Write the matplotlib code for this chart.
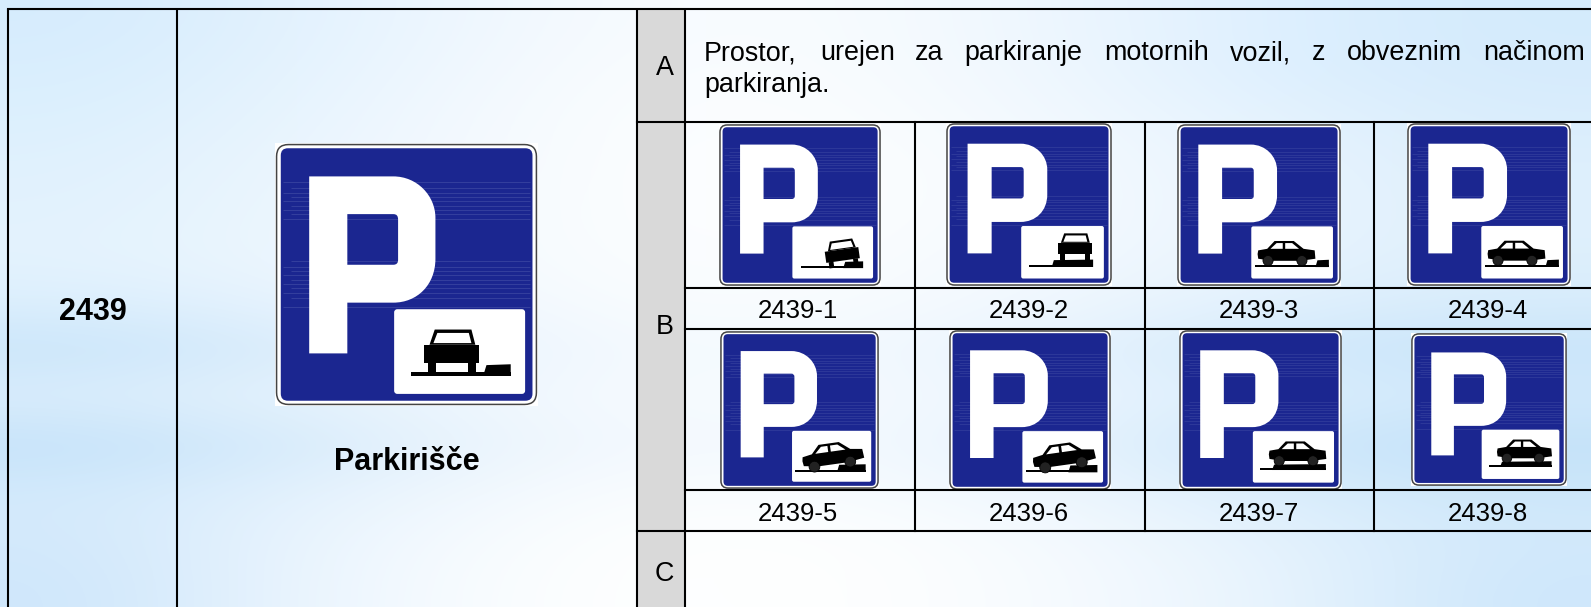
import numpy as np
import matplotlib
matplotlib.use('Agg')
import matplotlib.pyplot as plt
from matplotlib.colors import to_rgb
from matplotlib.patches import Circle, FancyBboxPatch, PathPatch, Polygon, Rectangle
from matplotlib.path import Path
from matplotlib.transforms import Affine2D

plt.rcParams['font.family'] = ['Liberation Sans', 'DejaVu Sans']

W, H = 1591, 607

# table content
sign_code = '2439'
sign_name = 'Parkirišče'
row_letters = ['A', 'B', 'C']
text_a_words = ['Prostor,', 'urejen', 'za', 'parkiranje', 'motornih', 'vozil,', 'z', 'obveznim', 'načinom']
text_a_last = 'parkiranja.'
labels_top = ['2439-1', '2439-2', '2439-3', '2439-4']
labels_bottom = ['2439-5', '2439-6', '2439-7', '2439-8']

# word starts of the justified line
word_x = [704, 820, 915, 964, 1104, 1230, 1312, 1347, 1483]

# grid lines
col_lines = [8, 177, 637, 685]
inner_cols = [915, 1145, 1374]
row_lines = [122, 288, 329, 490, 531]
top_line = 9

# background colours, 13 rows x 8 columns
bg_rows = [
    'd6ecfd e3f2fe f1f8ff f9fcff f6fbff ebf5fe dcefff d4ebfc',
    'd9eefd e5f3fe f3f9ff fbfdff f7fbff ecf6fe dcefff d6ebfc',
    'dcf0fd e8f4fe f5faff fcfeff f9fcff eff7fe e3f2fe d9edfc',
    'e0f1fd ebf5fe f6faff fdfeff fbfdff f2f9fe e7f3fe ddeffc',
    'e2f2fd ecf6fe f6fbff fdfeff fbfdff f3f9fe e8f4fe dff0fc',
    'e4f3fe edf6fe f6fbff fcfdff f9fcff f1f8fe e7f3fe ddeffc',
    'dceffd e7f3fe f3f9ff fafdff f7fbff edf6fe e0f0fd d7ecfb',
    'c9e5fa d9ecfb ecf5fe f6fbff f1f8fe e2f1fd cfe8fb c8e4fa',
    'dceefc e6f3fd f1f8fe f8fcff f5faff e9f4fe dceffd d3eafb',
    'c4e2f9 d6ebfb ecf5fd f5faff f1f8fe e2f1fd cbe6fa c2e1f9',
    'd3eafc e3f1fd f3f9fe fbfdff f6fbff ebf5fe d9edfc cde7fa',
    'd3e9fb e9f4fe f8fcff feffff fcfeff f3f9fe e2f1fd d2e9fb',
    'cfe7fb ebf5fe fafdff ffffff fdfeff f5faff e6f3fd cee7fb',
]

# x0, y0, x1, y1 of each sign and what the small panel shows
big_sign = (275, 143, 538, 406, 'front_road')
small_signs = [
    (719, 124, 881, 286, 'front_tilt'),
    (946, 123, 1112, 286, 'front_on'),
    (1177, 124, 1341, 286, 'side_road'),
    (1407, 123, 1571, 286, 'side_road'),
    (720, 331, 879, 489, 'side_tilt'),
    (949, 330, 1111, 490, 'side_tilt'),
    (1179, 330, 1342, 490, 'side_on'),
    (1411, 333, 1567, 486, 'side_on'),
]

# lighter scan streaks on the blue, in sign fractions
streak_y = [.15, .17, .19, .205, .22, .24, .255, .27, .29,
            .45, .47, .485, .5, .52, .535, .55, .57, .59, .625]

BLUE = '#1b2690'

fig = plt.figure(figsize=(W / 100, H / 100), dpi=100)
ax = fig.add_axes([0, 0, 1, 1])
ax.set_xlim(0, W)
ax.set_ylim(H, 0)
ax.axis('off')

bg = np.array([[to_rgb('#' + c) for c in row.split()] for row in bg_rows])
ax.imshow(bg, extent=(0, W, H, 0), aspect='auto', interpolation='bicubic', zorder=0)
ax.set_xlim(0, W)
ax.set_ylim(H, 0)


def p_shape(x, y, w, h):
    # capital P with its counter, outer and inner path run in opposite directions
    pts = [(.13, .127), (.45, .127), (.54, .127), (.61, .2), (.61, .285), (.61, .44),
           (.61, .54), (.54, .607), (.45, .607), (.275, .607), (.275, .80), (.13, .80), (.13, .127),
           (.275, .27), (.275, .463), (.45, .463), (.468, .463), (.468, .445), (.468, .29),
           (.468, .27), (.45, .27), (.275, .27)]
    codes = [Path.MOVETO, Path.LINETO, Path.CURVE4, Path.CURVE4, Path.CURVE4, Path.LINETO,
             Path.CURVE4, Path.CURVE4, Path.CURVE4, Path.LINETO, Path.LINETO, Path.LINETO, Path.CLOSEPOLY,
             Path.MOVETO, Path.LINETO, Path.LINETO, Path.CURVE3, Path.CURVE3, Path.LINETO,
             Path.CURVE3, Path.CURVE3, Path.CLOSEPOLY]
    verts = [(x + a * w, y + b * h) for a, b in pts]
    return PathPatch(Path(verts, codes), fc='white', ec='none', zorder=5)


def draw_front_car(px, py, pw, ph, angle):
    def to_px(points):
        return [(px + a * pw, py + b * ph) for a, b in points]
    cx, cy = px + .44 * pw, py + .6 * ph
    tr = Affine2D().rotate_deg_around(cx, cy, angle) + ax.transData
    parts = [
        ([(.27, .42), (.31, .24), (.59, .24), (.62, .42)], 'black'),
        ([(.30, .40), (.33, .28), (.57, .28), (.59, .40)], 'white'),
        ([(.23, .42), (.65, .42), (.65, .635), (.23, .635)], 'black'),
        ([(.26, .63), (.32, .63), (.32, .75), (.26, .75)], 'black'),
        ([(.565, .63), (.625, .63), (.625, .75), (.565, .75)], 'black'),
    ]
    for pts, col in parts:
        ax.add_patch(Polygon(to_px(pts), fc=col, ec='none', zorder=7, transform=tr))


def draw_side_car(px, py, pw, ph, angle, dx=0.0, dy=0.0, scale=1.0):
    def to_px(points):
        return [(px + (a * scale + dx) * pw, py + (b * scale + dy) * ph) for a, b in points]
    cx, cy = px + (.43 * scale + dx) * pw, py + (.6 * scale + dy) * ph
    tr = Affine2D().rotate_deg_around(cx, cy, angle) + ax.transData
    body = [(.077, .53), (.085, .46), (.195, .43), (.285, .28), (.52, .28), (.64, .43),
            (.776, .46), (.785, .62), (.60, .66), (.25, .66), (.085, .62)]
    win1 = [(.235, .43), (.31, .32), (.385, .32), (.385, .43)]
    win2 = [(.415, .43), (.415, .32), (.50, .32), (.585, .43)]
    ax.add_patch(Polygon(to_px(body), fc='black', ec='none', zorder=7, transform=tr))
    ax.add_patch(Polygon(to_px(win1), fc='white', ec='none', zorder=8, transform=tr))
    ax.add_patch(Polygon(to_px(win2), fc='white', ec='none', zorder=8, transform=tr))
    for wx in (.205, .62):
        wheel = to_px([(wx, .655)])[0]
        ax.add_patch(Circle(wheel, .062 * scale * pw, fc='#222222', ec='black', lw=.6, zorder=8, transform=tr))


def draw_ground(px, py, pw, ph, x0, x1, k0, k1, top, bottom=.785):
    # road line and the raised kerb
    road = [(x0, bottom - .04), (x1, bottom - .04), (x1, bottom), (x0, bottom)]
    kerb = [(k0, bottom), (k0 + .025, top), (k1, top - .01), (k1, bottom)]
    for pts in (road, kerb):
        ax.add_patch(Polygon([(px + a * pw, py + b * ph) for a, b in pts], fc='black', ec='none', zorder=6))


def draw_sign(x0, y0, x1, y1, kind):
    w, h = x1 - x0, y1 - y0
    ax.add_patch(Rectangle((x0, y0), w, h, fc='white', ec='none', zorder=2))
    rad = .045 * w
    ax.add_patch(FancyBboxPatch((x0 + .006 * w, y0 + .006 * h), .988 * w, .988 * h,
                                boxstyle='round,pad=0,rounding_size=%.2f' % rad,
                                fc='white', ec='#444444', lw=1.1, zorder=2))
    ax.add_patch(FancyBboxPatch((x0 + .022 * w, y0 + .02 * h), .957 * w, .96 * h,
                                boxstyle='round,pad=0,rounding_size=%.2f' % (rad * .6),
                                fc=BLUE, ec='none', zorder=3))
    for i, s in enumerate(streak_y):
        left = .03 if i % 2 == 0 else .06
        ax.plot([x0 + left * w, x0 + .97 * w], [y0 + s * h] * 2, color='#6f7bbd',
                lw=.7 if w > 200 else .5, alpha=.3, zorder=4, solid_capstyle='butt')
    ax.add_patch(p_shape(x0, y0, w, h))

    # white panel with the parking method
    px, py = x0 + .453 * w, y0 + .632 * h
    pw, ph = .498 * w, .322 * h
    ax.add_patch(FancyBboxPatch((px, py), pw, ph, boxstyle='round,pad=0,rounding_size=%.2f' % (.012 * w),
                                fc='white', ec='none', zorder=5))
    if kind == 'front_road':
        draw_ground(px, py, pw, ph, .13, .89, .68, .89, .66)
        draw_front_car(px, py, pw, ph, 0)
    elif kind == 'front_tilt':
        draw_ground(px, py, pw, ph, .11, .877, .63, .877, .68, .80)
        draw_front_car(px + .185 * pw, py + .02 * ph, pw, ph, -8)
    elif kind == 'front_on':
        draw_ground(px, py, pw, ph, .10, .87, .37, .87, .65, .78)
        draw_front_car(px + .21 * pw, py - .10 * ph, pw, ph, 0)
    elif kind == 'side_road':
        draw_ground(px, py, pw, ph, .05, .95, .785, .95, .65, .78)
        draw_side_car(px, py, pw, ph, 0)
    elif kind == 'side_tilt':
        draw_ground(px, py, pw, ph, .04, .93, .57, .93, .667, .80)
        draw_side_car(px, py, pw, ph, -8, dx=.05, dy=-.07, scale=1.1)
    elif kind == 'side_on':
        draw_ground(px, py, pw, ph, .09, .90, .237, .90, .65, .755)
        draw_side_car(px, py, pw, ph, 0, dx=.12, dy=-.08)


# grey letter column
ax.add_patch(Rectangle((col_lines[2], top_line), col_lines[3] - col_lines[2], H - top_line,
                       fc='#d9d9d9', ec='none', zorder=1))

draw_sign(*big_sign)
for s in small_signs:
    draw_sign(*s)

# table rules
LW = 1.5
ax.plot([col_lines[0], W], [top_line, top_line], color='black', lw=LW, zorder=10)
for x in col_lines:
    ax.plot([x, x], [top_line, H], color='black', lw=LW, zorder=10, solid_capstyle='butt')
for x in inner_cols:
    ax.plot([x, x], [row_lines[0], row_lines[4]], color='black', lw=LW, zorder=10)
for y, start in zip(row_lines, [col_lines[2], col_lines[3], col_lines[3], col_lines[3], col_lines[2]]):
    ax.plot([start, W], [y, y], color='black', lw=LW, zorder=10)

# texts
FS = 19.4
ax.text(93, 320, sign_code, fontsize=22, fontweight='bold', ha='center', va='baseline', zorder=11)
ax.text(406.5, 470, sign_name, fontsize=22, fontweight='bold', ha='center', va='baseline', zorder=11)
for letter, yb in zip(row_letters, [75, 334, 581]):
    ax.text(664.5, yb, letter, fontsize=FS, ha='center', va='baseline', zorder=11)
for word, x in zip(text_a_words, word_x):
    ax.text(x, 60, word, fontsize=FS, ha='left', va='baseline', zorder=11)
ax.text(word_x[0], 92, text_a_last, fontsize=FS, ha='left', va='baseline', zorder=11)
label_x = [798, 1029, 1259, 1488]
for lab, x in zip(labels_top, label_x):
    ax.text(x, 318, lab, fontsize=18.5, ha='center', va='baseline', zorder=11)
for lab, x in zip(labels_bottom, label_x):
    ax.text(x, 521, lab, fontsize=18.5, ha='center', va='baseline', zorder=11)

fig.savefig('out.png', dpi=100)
